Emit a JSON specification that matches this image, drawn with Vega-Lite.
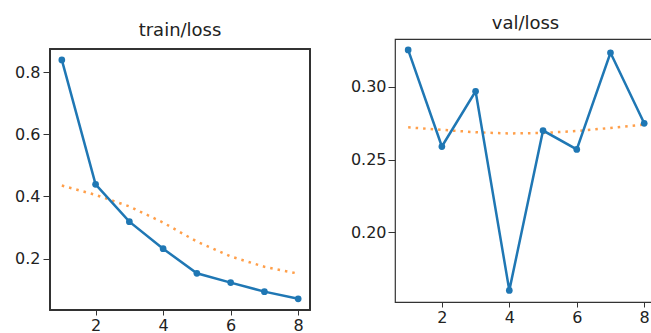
{
  "$schema": "https://vega.github.io/schema/vega-lite/v6.json",
  "padding": {"left": 14, "top": 14, "right": 0, "bottom": 0},
  "background": "white",
  "spacing": 38,
  "config": {
    "view": {"stroke": "#333", "strokeWidth": 1.2},
    "font": "DejaVu Sans",
    "axis": {
      "domain": false,
      "grid": false,
      "ticks": true,
      "tickSize": 7,
      "tickColor": "#333",
      "labelColor": "#222",
      "labelFontSize": 16,
      "labelFont": "DejaVu Sans",
      "labelPadding": 3,
      "title": null
    },
    "axisX": {"tickSize": 5, "labelPadding": 2},
    "title": {"fontSize": 18, "fontWeight": "normal", "color": "#222", "font": "DejaVu Sans", "offset": 6}
  },
  "datasets": {
    "train": [
      {"step": 1, "loss": 0.839, "smooth": 0.435},
      {"step": 2, "loss": 0.439, "smooth": 0.405},
      {"step": 3, "loss": 0.319, "smooth": 0.368},
      {"step": 4, "loss": 0.232, "smooth": 0.316},
      {"step": 5, "loss": 0.153, "smooth": 0.255},
      {"step": 6, "loss": 0.123, "smooth": 0.207},
      {"step": 7, "loss": 0.094, "smooth": 0.174},
      {"step": 8, "loss": 0.071, "smooth": 0.152}
    ],
    "val": [
      {"step": 1, "loss": 0.3255, "smooth": 0.2722},
      {"step": 2, "loss": 0.259, "smooth": 0.2705},
      {"step": 3, "loss": 0.297, "smooth": 0.2688},
      {"step": 4, "loss": 0.160, "smooth": 0.2680},
      {"step": 5, "loss": 0.270, "smooth": 0.2683},
      {"step": 6, "loss": 0.257, "smooth": 0.2697},
      {"step": 7, "loss": 0.3235, "smooth": 0.2718},
      {"step": 8, "loss": 0.275, "smooth": 0.2740}
    ]
  },
  "hconcat": [
    {
      "width": 260,
      "height": 271,
      "view": {"stroke": null},
      "title": {"text": "train/loss", "dy": 7},
      "data": {"name": "train"},
      "encoding": {
        "x": {"field": "step", "type": "quantitative", "scale": {"domain": [0.65, 8.35], "nice": false, "zero": false}, "axis": {"values": [2, 4, 6, 8], "format": "d"}}
      },
      "layer": [
        {
          "mark": {"type": "rect", "fill": null, "stroke": "#333", "strokeWidth": 1.2},
          "encoding": {
            "x": {"datum": 0.65, "type": "quantitative"},
            "x2": {"datum": 8.35},
            "y": {"datum": 0.035, "type": "quantitative"},
            "y2": {"datum": 0.874}
          }
        },
        {
          "mark": {"type": "line", "color": "#ff7f0e", "strokeWidth": 2.5, "strokeDash": [2.5, 5], "opacity": 0.75},
          "encoding": {"y": {"field": "smooth", "type": "quantitative", "scale": {"domain": [0.035, 0.874], "nice": false, "zero": false, "range": [271, 10]}, "axis": {"values": [0.2, 0.4, 0.6, 0.8], "format": ".1f"}}}
        },
        {
          "mark": {"type": "line", "color": "#1f77b4", "strokeWidth": 2.5},
          "encoding": {"y": {"field": "loss", "type": "quantitative"}}
        },
        {
          "mark": {"type": "point", "filled": true, "color": "#1f77b4", "size": 45, "opacity": 1},
          "encoding": {"y": {"field": "loss", "type": "quantitative"}}
        }
      ]
    },
    {
      "width": 261,
      "height": 263,
      "title": {"text": "val/loss"},
      "data": {"name": "val"},
      "encoding": {
        "x": {"field": "step", "type": "quantitative", "scale": {"domain": [0.61, 8.35], "nice": false, "zero": false}, "axis": {"values": [2, 4, 6, 8], "format": "d"}}
      },
      "layer": [
        {
          "mark": {"type": "line", "color": "#ff7f0e", "strokeWidth": 2.5, "strokeDash": [2.5, 5], "opacity": 0.75},
          "encoding": {"y": {"field": "smooth", "type": "quantitative", "scale": {"domain": [0.152, 0.333], "nice": false, "zero": false}, "axis": {"values": [0.2, 0.25, 0.3], "format": ".2f", "labelPadding": 2}}}
        },
        {
          "mark": {"type": "line", "color": "#1f77b4", "strokeWidth": 2.5},
          "encoding": {"y": {"field": "loss", "type": "quantitative"}}
        },
        {
          "mark": {"type": "point", "filled": true, "color": "#1f77b4", "size": 45, "opacity": 1},
          "encoding": {"y": {"field": "loss", "type": "quantitative"}}
        }
      ]
    }
  ]
}
